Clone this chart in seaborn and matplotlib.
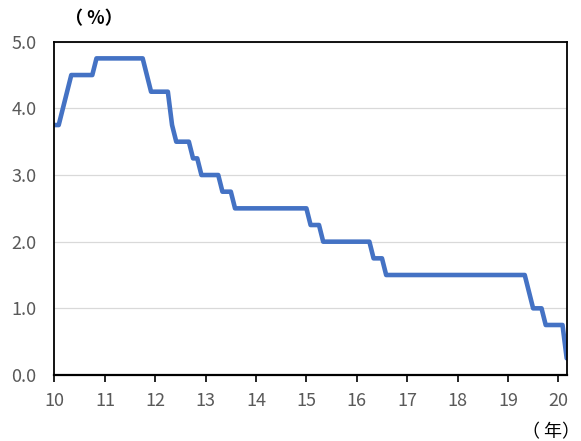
import numpy as np
import pandas as pd
import seaborn as sns
import matplotlib.pyplot as plt

# monthly policy rate, Jan 2010 - Mar 2020 (%)
rate_2010 = [3.75, 3.75, 4.0, 4.25, 4.5, 4.5, 4.5, 4.5, 4.5, 4.5, 4.75, 4.75]
rate_2011 = [4.75, 4.75, 4.75, 4.75, 4.75, 4.75, 4.75, 4.75, 4.75, 4.75, 4.5, 4.25]
rate_2012 = [4.25, 4.25, 4.25, 4.25, 3.75, 3.5, 3.5, 3.5, 3.5, 3.25, 3.25, 3.0]
rate_2013 = [3.0, 3.0, 3.0, 3.0, 2.75, 2.75, 2.75, 2.5, 2.5, 2.5, 2.5, 2.5]
rate_2014 = [2.5] * 12
rate_2015 = [2.5, 2.25, 2.25, 2.25, 2.0, 2.0, 2.0, 2.0, 2.0, 2.0, 2.0, 2.0]
rate_2016 = [2.0, 2.0, 2.0, 2.0, 1.75, 1.75, 1.75, 1.5, 1.5, 1.5, 1.5, 1.5]
rate_2017 = [1.5] * 12
rate_2018 = [1.5] * 12
rate_2019 = [1.5, 1.5, 1.5, 1.5, 1.5, 1.25, 1.0, 1.0, 1.0, 0.75, 0.75, 0.75]
rate_2020 = [0.75, 0.75, 0.25]

rates = (rate_2010 + rate_2011 + rate_2012 + rate_2013 + rate_2014 + rate_2015
         + rate_2016 + rate_2017 + rate_2018 + rate_2019 + rate_2020)
months = np.arange(len(rates))
df = pd.DataFrame({'year': 10 + months / 12, 'rate': rates})

year_ticks = list(range(10, 21))
y_ticks = [0, 1, 2, 3, 4, 5]

sns.set_theme(style="white")
plt.rcParams['font.family'] = ['Noto Sans CJK JP', 'DejaVu Sans']

fig = plt.figure(figsize=(5.81, 4.41), dpi=100)
ax = fig.add_axes([0.0938, 0.1497, 0.8816, 0.7557])

sns.lineplot(data=df, x='year', y='rate', color='#4472C4', linewidth=3.3, ax=ax)

ax.set_xlim(10, df['year'].iloc[-1])
ax.set_ylim(0, 5)
ax.set_xticks(year_ticks)
ax.set_xticklabels([str(t) for t in year_ticks])
ax.set_yticks(y_ticks)
ax.set_yticklabels([f"{t:.1f}" for t in y_ticks])
ax.set_xlabel('')
ax.set_ylabel('')

ax.yaxis.grid(True, color='#D9D9D9', linewidth=0.9)
ax.xaxis.grid(False)
for s in ax.spines.values():
    s.set_color('black')
    s.set_linewidth(1.3)
ax.spines['bottom'].set_linewidth(1.6)

ax.tick_params(axis='x', direction='out', length=5, width=1.2, color='black',
               labelsize=13, labelcolor='#595959', pad=7, bottom=True)
ax.tick_params(axis='y', length=0, labelsize=13, labelcolor='#595959', pad=13, left=False)

fig.text(0.112, 0.957, '（ %）', fontsize=13, fontweight='bold', ha='left', va='center', color='black')
fig.text(0.998, 0.02, '（ 年）', fontsize=13, ha='right', va='center', color='black')

plt.savefig('out.png', dpi=100)
plt.close()
